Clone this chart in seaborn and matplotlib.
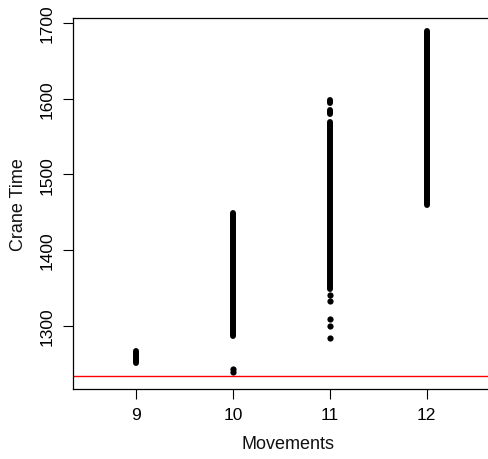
import pandas as pd
import matplotlib
matplotlib.use("Agg")
import matplotlib.pyplot as plt
import seaborn as sns

# solid runs of points (movements, lowest and highest crane time)
run_mov = [9, 10, 11, 11, 11, 12]
run_lo = [1250, 1286, 1348, 1580, 1594, 1460]
run_hi = [1266, 1449, 1569, 1585, 1598, 1689]

# isolated points
pt_mov = [10, 10, 11, 11, 11, 11, 11]
pt_time = [1243, 1239, 1340, 1332, 1309, 1299, 1284]

lower_bound = 1234
xticks = [9, 10, 11, 12]
yticks = [1300, 1400, 1500, 1600, 1700]

runs = pd.DataFrame({
    "mov": run_mov + run_mov,
    "time": run_lo + run_hi,
    "seg": list(range(len(run_mov))) * 2,
})
pts = pd.DataFrame({"mov": pt_mov, "time": pt_time})

sns.set_style("ticks")
plt.rcParams["font.family"] = ["Liberation Sans", "DejaVu Sans"]

fig = plt.figure(figsize=(4.88, 4.60), dpi=100)
ax = fig.add_axes([73 / 488, 70 / 460, 430 / 488, 371 / 460])

sns.lineplot(data=runs, x="mov", y="time", units="seg", estimator=None,
             sort=False, color="black", lw=4.3, solid_capstyle="round", ax=ax)
sns.scatterplot(data=pts, x="mov", y="time", color="black", s=20,
                linewidth=0, ax=ax)
ax.axhline(lower_bound, color="red", lw=1)

ax.set_xlim(8.344, 12.79)
ax.set_ylim(1216.3, 1706.6)
ax.set_xticks(xticks)
ax.set_yticks(yticks)
ax.set_yticklabels([str(v) for v in yticks], rotation=90, va="center")
ax.tick_params(length=7, width=0.8, labelsize=12.5, colors="black", pad=6)
ax.set_xlabel("Movements", fontsize=13, labelpad=9, color="#111111")
ax.set_ylabel("Crane Time", fontsize=13, labelpad=9, color="#111111")
for s in ax.spines.values():
    s.set_visible(True)
    s.set_linewidth(0.9)
    s.set_color("black")

fig.savefig("out.png", dpi=100)
